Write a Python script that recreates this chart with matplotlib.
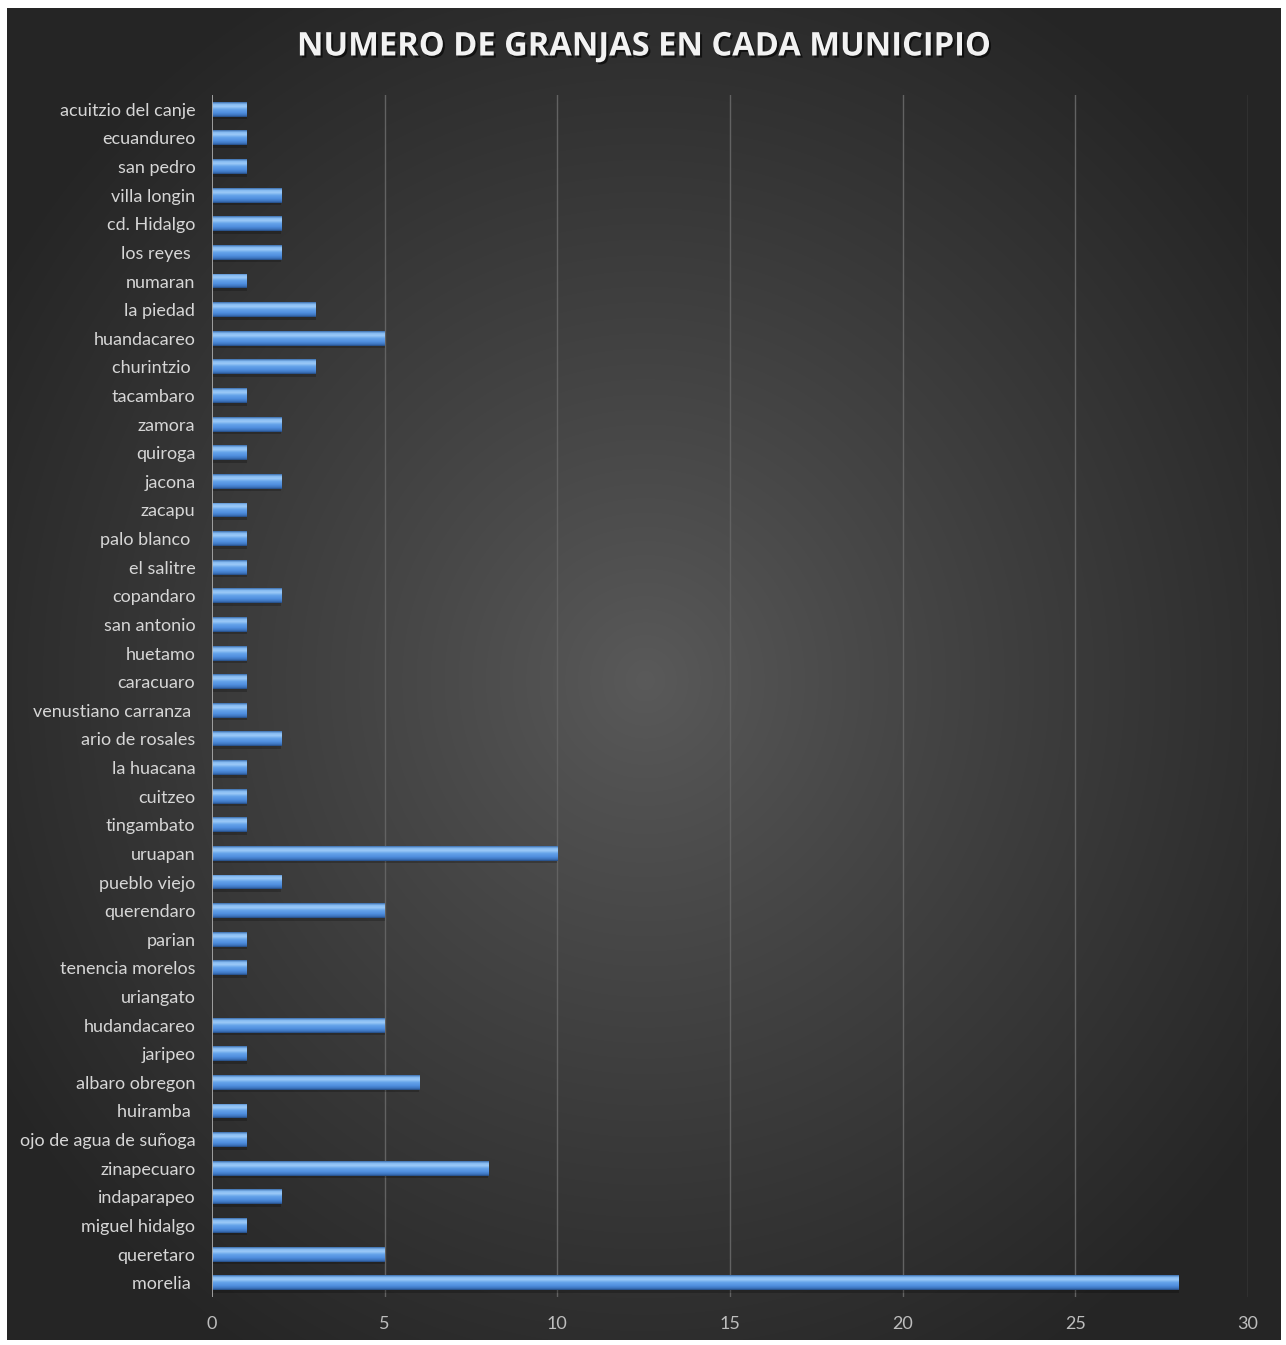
import numpy as np
import matplotlib.pyplot as plt
from matplotlib.colors import LinearSegmentedColormap
import matplotlib.patheffects as pe

# ------------------------------------------------------------
# datos: número de granjas por municipio
# ------------------------------------------------------------
municipios = [
    'acuitzio del canje', 'ecuandureo', 'san pedro', 'villa longin',
    'cd. Hidalgo', 'los reyes ', 'numaran', 'la piedad', 'huandacareo',
    'churintzio ', 'tacambaro', 'zamora', 'quiroga', 'jacona', 'zacapu',
    'palo blanco ', 'el salitre', 'copandaro', 'san antonio', 'huetamo',
    'caracuaro', 'venustiano carranza ', 'ario de rosales', 'la huacana',
    'cuitzeo', 'tingambato', 'uruapan', 'pueblo viejo', 'querendaro',
    'parian', 'tenencia morelos', 'uriangato', 'hudandacareo', 'jaripeo',
    'albaro obregon', 'huiramba ', 'ojo de agua de suñoga', 'zinapecuaro',
    'indaparapeo', 'miguel hidalgo', 'queretaro', 'morelia ',
]
granjas = [
    1, 1, 1, 2,
    2, 2, 1, 3, 5,
    3, 1, 2, 1, 2, 1,
    1, 1, 2, 1, 1,
    1, 1, 2, 1,
    1, 1, 10, 2, 5,
    1, 1, 0, 5, 1,
    6, 1, 1, 8,
    2, 1, 5, 28,
]
x_ticks = [0, 5, 10, 15, 20, 25, 30]
titulo = 'NUMERO DE GRANJAS EN CADA MUNICIPIO'

plt.rcParams['font.family'] = ['Lato', 'DejaVu Sans']

W, H = 1286, 1345
fig = plt.figure(figsize=(W / 100, H / 100), dpi=100)
fig.patch.set_facecolor('white')

# ------------------------------------------------------------
# fondo con degradado radial
# ------------------------------------------------------------
bx0, bx1, by0, by1 = 7, 1281, 8, 1340
bg = fig.add_axes([bx0 / W, 1 - by1 / H, (bx1 - bx0) / W, (by1 - by0) / H])
yy, xx = np.mgrid[0:by1 - by0, 0:bx1 - bx0]
cx, cy = 645 - bx0, 680 - by0
r = np.sqrt(((xx - cx) / 760.0) ** 2 + ((yy - cy) / 800.0) ** 2)
r = np.clip(r, 0, 1) ** 0.9
c_in = np.array([0x5a, 0x5a, 0x5a]) / 255
c_out = np.array([0x25, 0x25, 0x25]) / 255
img = c_in[None, None, :] * (1 - r[..., None]) + c_out[None, None, :] * r[..., None]
bg.imshow(img, aspect='auto', interpolation='bilinear')
bg.axis('off')

# ------------------------------------------------------------
# ejes principales
# ------------------------------------------------------------
left, right, top, bottom = 212, 1248, 95, 1297
ax = fig.add_axes([left / W, 1 - bottom / H, (right - left) / W, (bottom - top) / H])
ax.patch.set_alpha(0)

n = len(municipios)
ypos = np.arange(n)
alto = 0.52

for xv in x_ticks[1:]:
    ax.axvline(xv, color='#626262', lw=1.0, zorder=0)
ax.axvline(0, color='#a8a8a8', lw=1.3, zorder=4)

# sombra
ax.barh(ypos + 0.07, granjas, height=alto + 0.04, color='black', alpha=0.22,
        zorder=1, linewidth=0)

bars = ax.barh(ypos, granjas, height=alto, color='#5b9be5', zorder=2, linewidth=0)

cmap = LinearSegmentedColormap.from_list('barra', [
    (0.00, '#3a6cab'),
    (0.14, '#86bbf3'),
    (0.30, '#9ccaf8'),
    (0.48, '#66a4ea'),
    (0.72, '#4f8ede'),
    (0.90, '#3b72bb'),
    (1.00, '#244a80'),
])
grad = np.linspace(0, 1, 64).reshape(-1, 1)
for b, yv, v in zip(bars, ypos, granjas):
    if v <= 0:
        continue
    im = ax.imshow(grad, cmap=cmap, aspect='auto', interpolation='bilinear',
                   extent=(0, v, yv + alto / 2, yv - alto / 2), origin='upper',
                   zorder=3)
    im.set_clip_path(b)

ax.set_xlim(0, 30)
ax.set_ylim(n - 0.5, -0.5)
ax.set_xticks(x_ticks)
ax.set_yticks(ypos)
ax.set_yticklabels(municipios)
ax.tick_params(axis='y', length=0, pad=12, labelsize=13, labelcolor='#d6d6d6')
ax.tick_params(axis='x', length=0, pad=14, labelsize=13, labelcolor='#bdbdbd')
for s in ax.spines.values():
    s.set_visible(False)

fig.text(643 / W, 1 - 47 / H, titulo, ha='center', va='center',
         fontsize=23.5, fontweight='bold', color='#f2f2f2',
         family=['Open Sans', 'DejaVu Sans'],
         path_effects=[pe.withSimplePatchShadow(offset=(1.5, -1.5), shadow_rgbFace='black', alpha=0.6)])

fig.savefig('out.png', dpi=100, facecolor=fig.get_facecolor())
